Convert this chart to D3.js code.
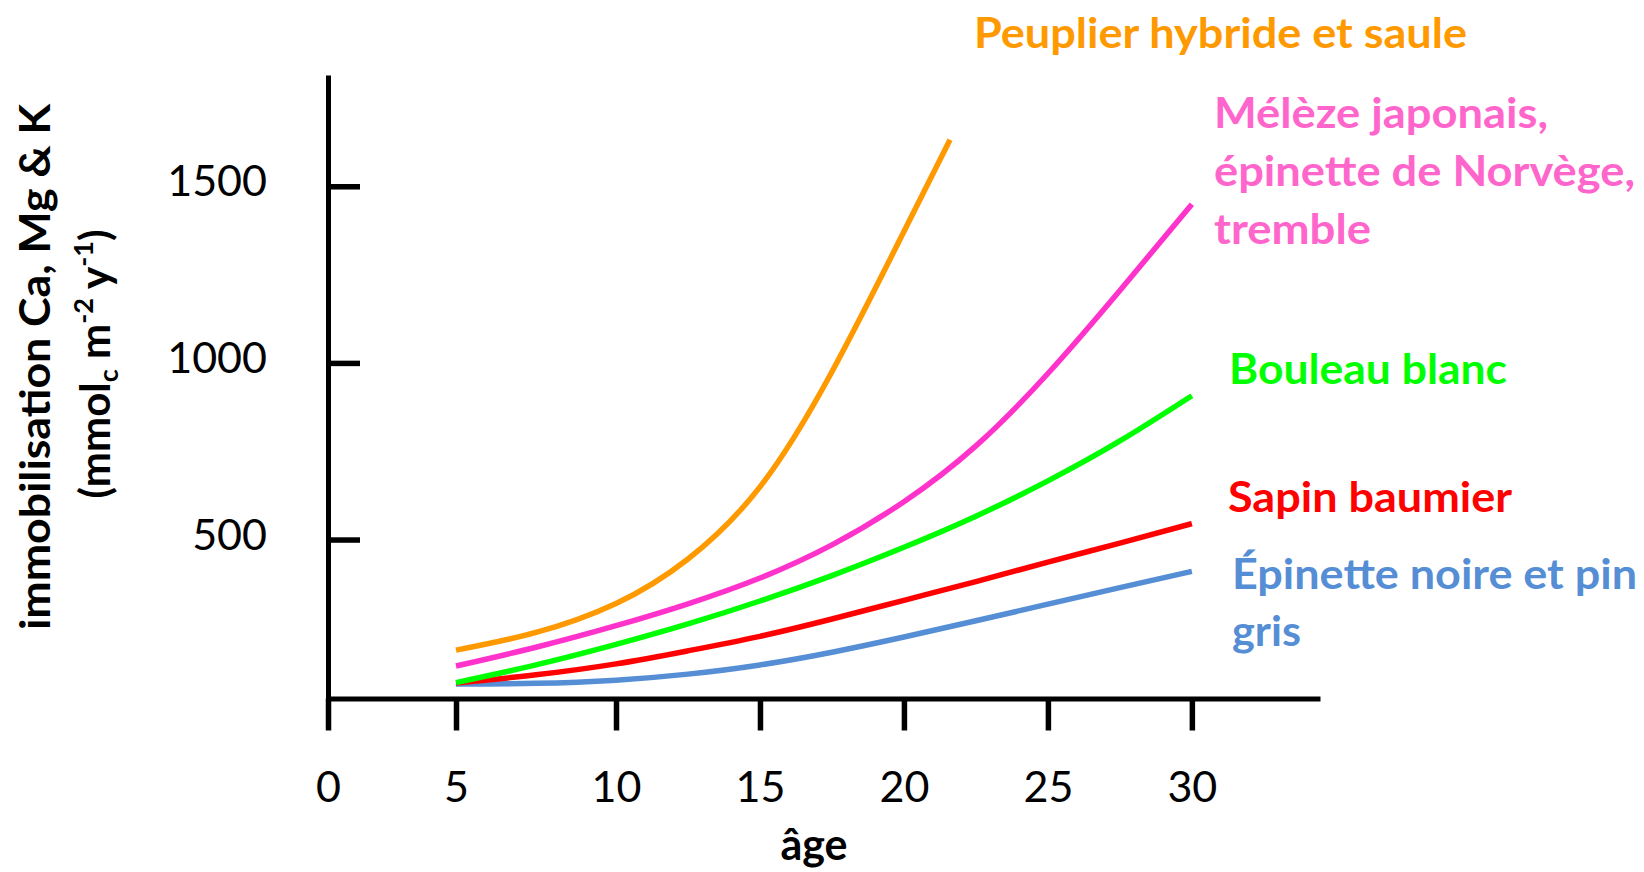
<!DOCTYPE html>
<html>
<head>
<meta charset="utf-8">
<script src="https://cdn.jsdelivr.net/npm/d3@7"></script>
<style>
  html, body { margin: 0; padding: 0; background: #ffffff; }
  svg { display: block; }
</style>
</head>
<body>
<svg id="chart" width="1644" height="872"></svg>
<script>
// ---------------- data ----------------
const ages = [5, 7.5, 10, 12.5, 15, 17.5, 20, 22.5, 25, 27.5, 30];
const agesPeuplier = [5, 7.5, 10, 12.5, 15, 17.5, 20, 21.6];
const peuplier = [187, 237, 319, 445, 649, 975, 1372, 1632];
const meleze   = [142, 195, 256, 318, 391, 485, 607, 765, 970, 1205, 1449];
const bouleau  = [95, 145, 203, 261, 326, 398, 478, 566, 666, 779, 907];
const sapin    = [94, 117, 148, 185, 226, 275, 328, 381, 436, 490, 545];
const epinette = [91, 93, 102, 119, 145, 181, 224, 270, 317, 364, 410];

const xTicks = [0, 5, 10, 15, 20, 25, 30];
const yTicks = [500, 1000, 1500];

const labelPeuplier = ["Peuplier hybride et saule"];
const labelMeleze   = ["Mélèze japonais,", "épinette de Norvège,", "tremble"];
const labelBouleau  = ["Bouleau blanc"];
const labelSapin    = ["Sapin baumier"];
const labelEpinette = ["Épinette noire et pin", "gris"];

const xTitle = "âge";
const yTitle1 = "immobilisation Ca, Mg & K";

// ---------------- layout / style ----------------
const svg = d3.select("#chart");
const FONT = "Lato, 'Open Sans', 'DejaVu Sans', sans-serif";

// hand-drawn axis: the "5" tick sits closer to 0 than the others
const x = d3.scaleLinear()
  .domain([0, 5, 10, 34.45])
  .range([328, 456, 616, 1320]);
const y = d3.scaleLinear()
  .domain([50, 1815])
  .range([698.5, 75]);

const series = [
  { ages: agesPeuplier, values: peuplier, color: "#FF9900" },
  { ages: ages, values: meleze,   color: "#FF33CC" },
  { ages: ages, values: bouleau,  color: "#00FF00" },
  { ages: ages, values: sapin,    color: "#FF0000" },
  { ages: ages, values: epinette, color: "#558ED5" }
];

const line = d3.line()
  .x(d => x(d[0]))
  .y(d => y(d[1]))
  .curve(d3.curveNatural);

// draw from bottom series to top so overlaps match
series.slice().reverse().forEach(s => {
  const pts = s.ages.map((a, i) => [a, s.values[i]]);
  svg.append("path")
    .datum(pts)
    .attr("d", line)
    .attr("fill", "none")
    .attr("stroke", s.color)
    .attr("stroke-width", 5.5)
    .attr("stroke-linecap", "butt");
});

// ---------------- axes ----------------
const xAxis = svg.append("g")
  .attr("transform", `translate(0,${y(50)})`)
  .call(d3.axisBottom(x).tickValues(xTicks).tickSize(32).tickSizeOuter(0).tickFormat(d3.format("d")));
xAxis.select(".domain").attr("stroke", "#000").attr("stroke-width", 5);
xAxis.selectAll(".tick line").attr("stroke", "#000").attr("stroke-width", 5.5);
xAxis.selectAll(".tick text")
  .attr("y", 103.5).attr("dy", 0)
  .attr("font-family", FONT).attr("font-size", 43).attr("fill", "#000");

const yAxis = svg.append("g")
  .attr("transform", `translate(${x(0)},0)`)
  .call(d3.axisLeft(y).tickValues(yTicks).tickSize(-32).tickSizeOuter(0).tickPadding(61).tickFormat(d3.format("d")));
yAxis.select(".domain").attr("stroke", "#000").attr("stroke-width", 5);
yAxis.selectAll(".tick line").attr("stroke", "#000").attr("stroke-width", 5.5);
yAxis.selectAll(".tick text")
  .attr("dy", 0).attr("y", 9.5)
  .attr("font-family", FONT).attr("font-size", 43).attr("fill", "#000");

// axis titles
svg.append("text")
  .attr("x", 814).attr("y", 860)
  .attr("text-anchor", "middle")
  .attr("font-family", FONT).attr("font-weight", "bold").attr("font-size", 43)
  .attr("fill", "#000")
  .text(xTitle);

svg.append("text")
  .attr("transform", "translate(50,367) rotate(-90)")
  .attr("text-anchor", "middle")
  .attr("font-family", FONT).attr("font-weight", "bold").attr("font-size", 42)
  .attr("textLength", 526).attr("lengthAdjust", "spacingAndGlyphs")
  .attr("fill", "#000")
  .text(yTitle1);

const t2 = svg.append("text")
  .attr("transform", "translate(110,364) rotate(-90)")
  .attr("text-anchor", "middle")
  .attr("font-family", FONT).attr("font-weight", "bold").attr("font-size", 42)
  .attr("fill", "#000");
t2.append("tspan").text("(mmol");
t2.append("tspan").attr("font-size", 27).attr("dy", 8).text("c");
t2.append("tspan").attr("dy", -8).text(" m");
t2.append("tspan").attr("font-size", 27).attr("dy", -17).text("-2");
t2.append("tspan").attr("dy", 17).text(" y");
t2.append("tspan").attr("font-size", 27).attr("dy", -17).text("-1");
t2.append("tspan").attr("dy", 17).text(")");

// series labels
const labelLayout = [
  { lines: labelPeuplier, color: "#FF9900", x: 974,  ys: [48],           widths: [493] },
  { lines: labelMeleze,   color: "#FF66CC", x: 1214, ys: [128, 186, 244], widths: [334, 421, 157] },
  { lines: labelBouleau,  color: "#00FF00", x: 1229, ys: [384],          widths: [278] },
  { lines: labelSapin,    color: "#FF0000", x: 1228, ys: [512],          widths: [284] },
  { lines: labelEpinette, color: "#558ED5", x: 1232, ys: [589, 646],     widths: [405, 69] }
];
labelLayout.forEach(L => {
  L.lines.forEach((t, i) => {
    svg.append("text")
      .attr("x", L.x).attr("y", L.ys[i])
      .attr("font-family", FONT).attr("font-weight", "bold").attr("font-size", 42)
      .attr("fill", L.color)
      .attr("textLength", L.widths[i]).attr("lengthAdjust", "spacingAndGlyphs")
      .text(t);
  });
});
</script>
</body>
</html>
